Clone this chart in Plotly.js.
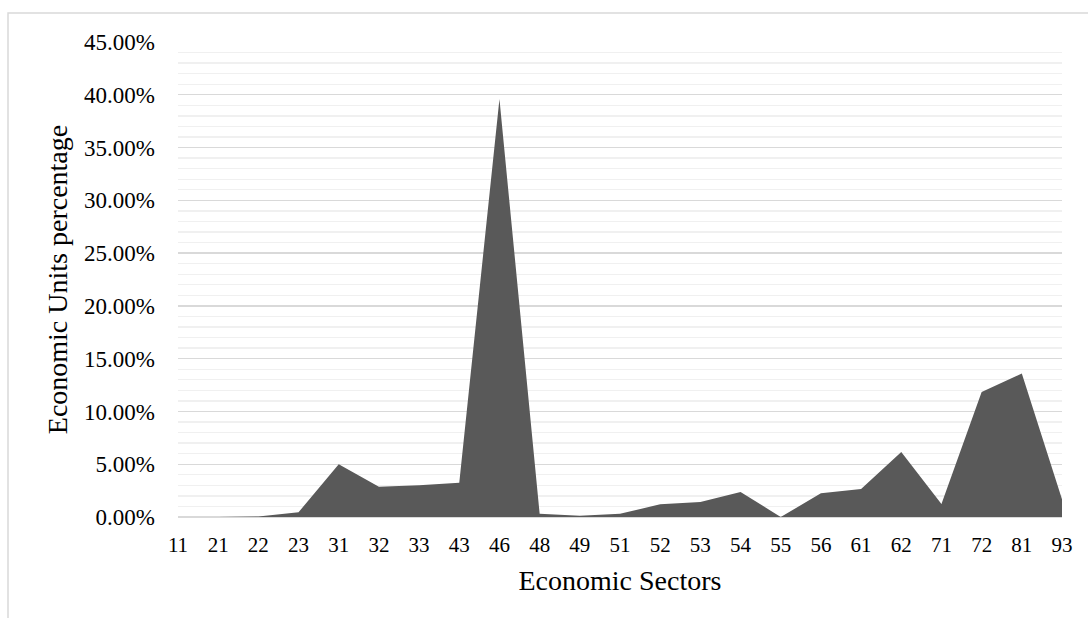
<!DOCTYPE html>
<html>
<head>
<meta charset="utf-8">
<script src="https://cdn.plot.ly/plotly-3.0.1.min.js"></script>
<style>
  html, body { margin: 0; padding: 0; background: #ffffff; }
  #chart { width: 1088px; height: 618px; }
</style>
</head>
<body>
<div id="chart"></div>
<script>
// Economic sector codes (category axis)
const sectors = ['11', '21', '22', '23', '31', '32', '33', '43', '46', '48', '49', '51',
                 '52', '53', '54', '55', '56', '61', '62', '71', '72', '81', '93'];

// Share of economic units per sector (fraction of total)
const unitShare = [0.0000, 0.0000, 0.0005, 0.0045, 0.0500, 0.0287, 0.0300, 0.0325, 0.3960,
                   0.0030, 0.0012, 0.0030, 0.0120, 0.0142, 0.0237, 0.0000, 0.0224, 0.0265,
                   0.0615, 0.0123, 0.1184, 0.1360, 0.0168];

const serif = '"Liberation Serif", "DejaVu Serif", serif';

const trace = {
  type: 'scatter',
  x: sectors,
  y: unitShare,
  mode: 'none',
  fill: 'tozeroy',
  fillcolor: '#595959',
  hoverinfo: 'x+y'
};

const layout = {
  width: 1088,
  height: 618,
  paper_bgcolor: '#ffffff',
  plot_bgcolor: '#ffffff',
  margin: { l: 178, r: 26, t: 42, b: 101 },
  showlegend: false,
  font: { family: serif, color: '#000000', size: 20 },
  xaxis: {
    type: 'category',
    range: [0, sectors.length - 1],
    showgrid: false,
    zeroline: false,
    showline: false,
    ticks: '',
    ticklabelstandoff: 13,
    tickfont: { family: serif, size: 21, color: '#000000' },
    title: { text: 'Economic Sectors', font: { family: serif, size: 28, color: '#000000' }, standoff: 14 },
    automargin: false,
    fixedrange: true
  },
  yaxis: {
    range: [0, 0.45],
    dtick: 0.05,
    tick0: 0,
    tickformat: '.2%',
    showgrid: true,
    gridcolor: '#d9d9d9',
    gridwidth: 1.3,
    zeroline: true,
    zerolinecolor: '#d9d9d9',
    zerolinewidth: 1.3,
    showline: false,
    ticks: '',
    ticklabelstandoff: 22,
    tickfont: { family: serif, size: 23, color: '#000000' },
    minor: { dtick: 0.01, showgrid: true, gridcolor: '#f0f0f0', gridwidth: 1.3 },
    title: { text: 'Economic Units percentage', font: { family: serif, size: 28, color: '#000000' }, standoff: 8 },
    automargin: false,
    fixedrange: true
  },
  shapes: [{
    type: 'rect',
    xref: 'paper', yref: 'paper',
    x0: -0.1923, x1: 1.2,
    y0: -0.3, y1: 1.061,
    line: { color: '#d9d9d9', width: 1.5 },
    fillcolor: 'rgba(0,0,0,0)',
    layer: 'below'
  }]
};

Plotly.newPlot('chart', [trace], layout, { displayModeBar: false, staticPlot: true });
</script>
</body>
</html>
